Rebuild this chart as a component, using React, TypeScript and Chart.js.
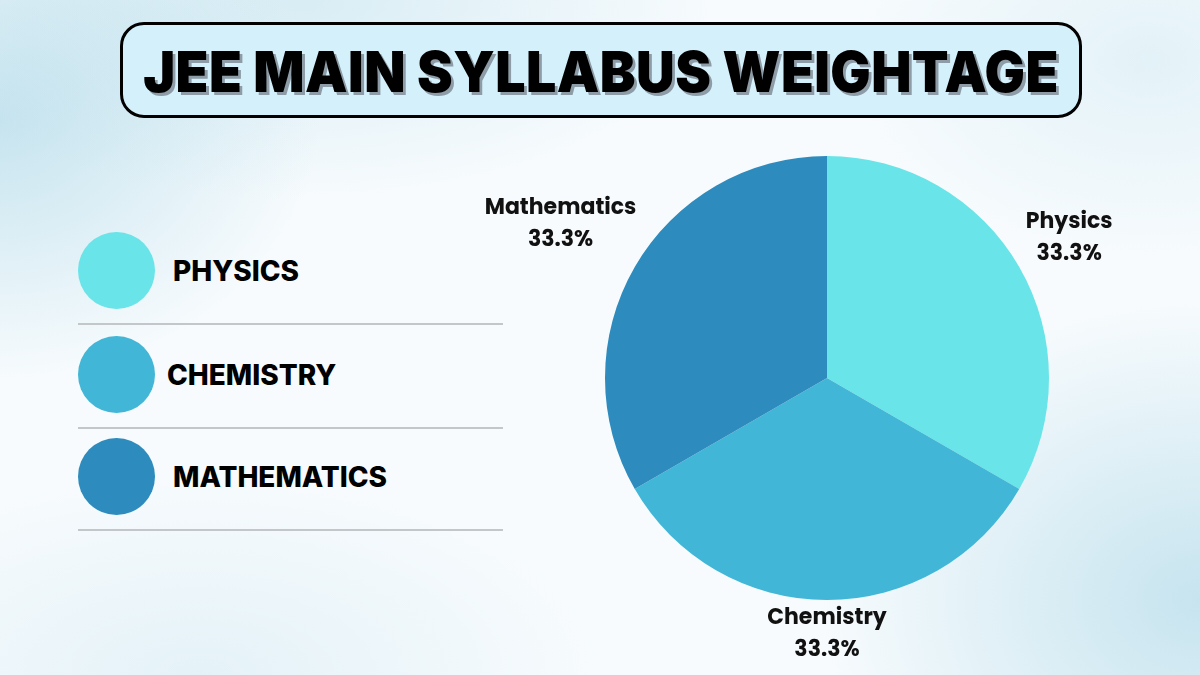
import React, { useEffect, useRef } from "react";
import { Chart, registerables } from "chart.js";

Chart.register(...registerables);

const TITLE = "JEE MAIN SYLLABUS WEIGHTAGE";
const categories = ["Physics", "Chemistry", "Mathematics"];
const legendLabels = ["PHYSICS", "CHEMISTRY", "MATHEMATICS"];
const weightage = [33.3, 33.3, 33.3];
const colors = ["#69e4e8", "#41b6d6", "#2e8bbd"];

const outerLabels = {
  id: "outerLabels",
  afterDatasetsDraw(chart: any) {
    const ctx = chart.ctx;
    const meta = chart.getDatasetMeta(0);
    const ds = chart.data.datasets[0];
    ctx.save();
    ctx.fillStyle = "#111";
    ctx.font = "700 22px Poppins, Inter, 'Open Sans', sans-serif";
    ctx.textAlign = "center";
    ctx.textBaseline = "middle";
    const lineGap = 32;
    meta.data.forEach((arc: any, i: number) => {
      const p = arc.getProps(["x", "y", "startAngle", "endAngle", "outerRadius"], true);
      const mid = (p.startAngle + p.endAngle) / 2;
      const l1 = String(chart.data.labels[i]);
      const l2 = ds.data[i].toFixed(1) + "%";
      const w = Math.max(ctx.measureText(l1).width, ctx.measureText(l2).width) / 2;
      const h = lineGap / 2 + 12;
      const c = Math.cos(mid), s = Math.sin(mid);
      const d = p.outerRadius + 6 + Math.abs(w * c) + Math.abs(h * s);
      const cx = p.x + d * c;
      const cy = p.y + d * s;
      ctx.fillText(l1, cx, cy - lineGap / 2);
      ctx.fillText(l2, cx, cy + lineGap / 2);
    });
    ctx.restore();
  },
};

function PieChart() {
  const ref = useRef<HTMLCanvasElement | null>(null);
  useEffect(() => {
    if (!ref.current) return;
    const chart = new Chart(ref.current, {
      type: "pie",
      data: {
        labels: categories,
        datasets: [
          {
            data: weightage,
            backgroundColor: colors,
            borderWidth: 0,
          },
        ],
      },
      options: {
        animation: false,
        responsive: false,
        layout: { padding: { left: 605, right: 151, top: 156, bottom: 75 } },
        plugins: {
          legend: { display: false },
          tooltip: { enabled: false },
          title: { display: false },
        },
      },
      plugins: [outerLabels],
    });
    return () => chart.destroy();
  }, []);
  return (
    <canvas
      ref={ref}
      width={1200}
      height={675}
      style={{ position: "absolute", left: 0, top: 0, width: 1200, height: 675 }}
    />
  );
}

export default function App() {
  const rowYs = [271, 375, 477];
  return (
    <div
      style={{
        position: "fixed",
        left: 0,
        top: 0,
        width: 1200,
        height: 675,
        overflow: "hidden",
        fontFamily: "Poppins, 'Open Sans', sans-serif",
        background:
          "radial-gradient(ellipse 320px 260px at 0px 120px, rgba(150,205,225,0.5), rgba(255,255,255,0) 100%)," +
          "radial-gradient(ellipse 420px 200px at 300px 0px, rgba(170,215,232,0.4), rgba(255,255,255,0) 100%)," +
          "radial-gradient(ellipse 380px 300px at 1200px 600px, rgba(150,205,225,0.5), rgba(255,255,255,0) 100%)," +
          "radial-gradient(ellipse 300px 200px at 1150px 60px, rgba(190,225,238,0.35), rgba(255,255,255,0) 100%)," +
          "radial-gradient(ellipse 400px 200px at 200px 675px, rgba(200,228,240,0.4), rgba(255,255,255,0) 100%)," +
          "#f7fbfd",
      }}
    >
      <div
        style={{
          position: "absolute",
          left: 120,
          top: 22,
          width: 962,
          height: 96,
          boxSizing: "border-box",
          border: "3px solid #000",
          borderRadius: 24,
          background: "#d4f0fb",
          display: "flex",
          alignItems: "center",
          justifyContent: "center",
        }}
      >
        <span
          style={{
            display: "inline-block",
            fontFamily: "Inter, sans-serif",
            fontWeight: 900,
            fontSize: 57,
            letterSpacing: 0.5,
            color: "#000",
            textShadow: "3px 3px 0 #8d9ca6",
            whiteSpace: "nowrap",
            lineHeight: 1,
            transform: "scaleX(0.94)",
            marginTop: 2,
          }}
        >
          {TITLE}
        </span>
      </div>
      {legendLabels.map((lab, i) => (
        <React.Fragment key={lab}>
          <div
            style={{
              position: "absolute",
              left: 78,
              top: rowYs[i] - 39,
              width: 77,
              height: 77,
              borderRadius: "50%",
              background: colors[i],
            }}
          />
          <div
            style={{
              position: "absolute",
              left: i === 1 ? 167 : 173,
              top: rowYs[i] - 20,
              height: 40,
              lineHeight: "40px",
              fontFamily: "Inter, sans-serif",
              fontWeight: 800,
              fontSize: 28,
              color: "#000",
              whiteSpace: "nowrap",
            }}
          >
            {lab}
          </div>
          <div
            style={{
              position: "absolute",
              left: 78,
              top: rowYs[i] + 52,
              width: 425,
              height: 2,
              background: "#c3c7c9",
            }}
          />
        </React.Fragment>
      ))}
      <PieChart />
    </div>
  );
}
